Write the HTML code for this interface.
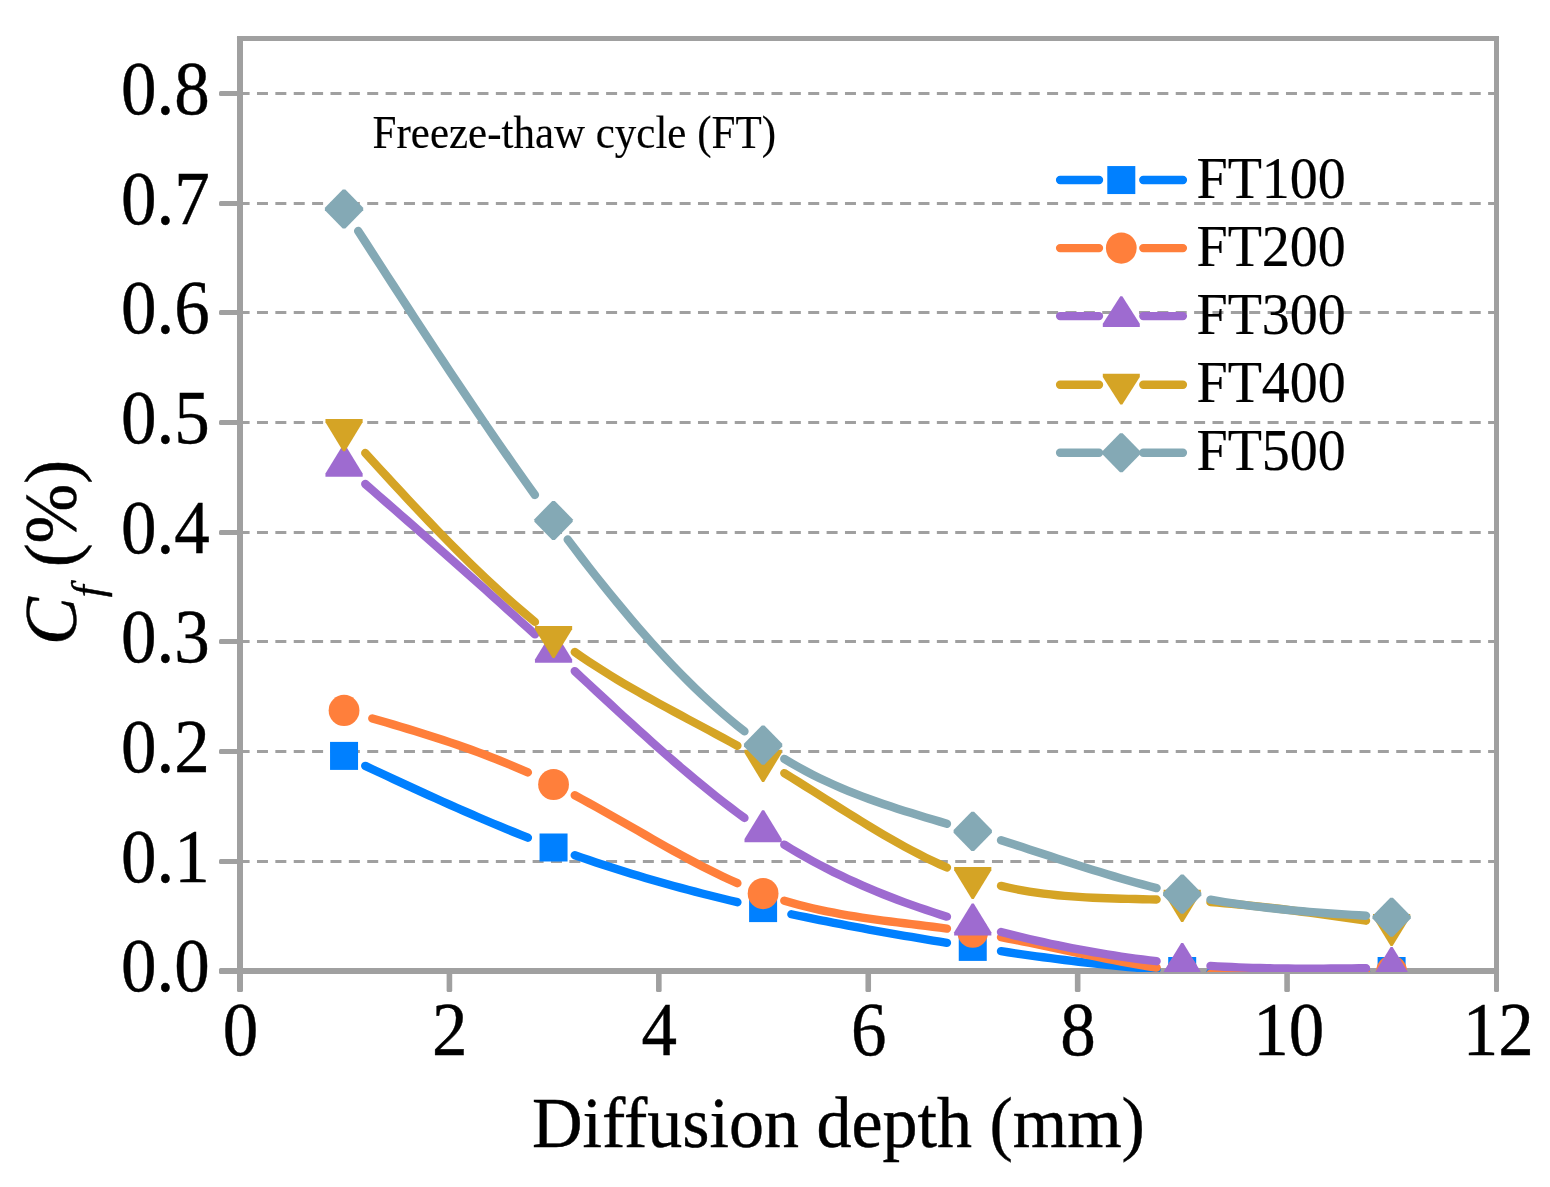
<!DOCTYPE html>
<html lang="en"><head><meta charset="utf-8"><title>Chloride diffusion chart</title>
<style>
html,body{margin:0;padding:0;background:#fff;}
body{width:1550px;height:1187px;overflow:hidden;}
svg{display:block;}
text{font-family:"Liberation Serif","Times New Roman",serif;fill:#000;stroke:#000;stroke-width:0.4px;}
.lg{stroke-width:0.2px;}
.an{stroke-width:0.15px;}
.it{font-style:italic;}
</style></head><body>
<svg width="1550" height="1187" viewBox="0 0 1550 1187">
<rect width="1550" height="1187" fill="#fff"/>
<defs><clipPath id="plot"><rect x="240" y="38" width="1257" height="934"/></clipPath></defs>

<g stroke="#a0a0a0" stroke-width="3" stroke-dasharray="11 7.375" fill="none">
<line x1="238.6" y1="861.5" x2="1496" y2="861.5"/>
<line x1="238.6" y1="751.5" x2="1496" y2="751.5"/>
<line x1="238.6" y1="641.5" x2="1496" y2="641.5"/>
<line x1="238.6" y1="532.5" x2="1496" y2="532.5"/>
<line x1="238.6" y1="422.5" x2="1496" y2="422.5"/>
<line x1="238.6" y1="312.5" x2="1496" y2="312.5"/>
<line x1="238.6" y1="203.5" x2="1496" y2="203.5"/>
<line x1="238.6" y1="93.5" x2="1496" y2="93.5"/>
</g>
<g fill="#a0a0a0">
<rect x="237" y="36" width="6" height="956" rx="1.5"/>
<rect x="219" y="968" width="1280" height="6" rx="1.5"/>
<rect x="237" y="36" width="1262" height="5"/>
<rect x="1494" y="36" width="5" height="956" rx="1.5"/>
<rect x="219" y="859" width="21" height="5" rx="1.5"/>
<rect x="219" y="749" width="21" height="5" rx="1.5"/>
<rect x="219" y="639" width="21" height="5" rx="1.5"/>
<rect x="219" y="530" width="21" height="5" rx="1.5"/>
<rect x="219" y="420" width="21" height="5" rx="1.5"/>
<rect x="219" y="310" width="21" height="5" rx="1.5"/>
<rect x="219" y="201" width="21" height="5" rx="1.5"/>
<rect x="219" y="91" width="21" height="5" rx="1.5"/>
<rect x="446.62" y="971" width="5.6" height="21" rx="1.5"/>
<rect x="656.03" y="971" width="5.6" height="21" rx="1.5"/>
<rect x="865.45" y="971" width="5.6" height="21" rx="1.5"/>
<rect x="1074.87" y="971" width="5.6" height="21" rx="1.5"/>
<rect x="1284.28" y="971" width="5.6" height="21" rx="1.5"/>
</g>
<g clip-path="url(#plot)">
<path d="M365.26 765.87 L372.33 769.18 L379.4 772.49 L386.47 775.79 L393.54 779.08 L400.61 782.36 L407.68 785.63 L414.75 788.88 L421.82 792.11 L428.89 795.33 L435.96 798.53 L443.03 801.71 L450.1 804.87 L457.17 808 L464.24 811.11 L471.31 814.19 L478.38 817.24 L485.45 820.26 L492.52 823.25 L499.59 826.21 L506.66 829.13 L513.73 832.01 L520.8 834.86 L527.87 837.67 M574.76 855.17 L581.83 857.63 L588.9 860.05 L595.97 862.43 L603.04 864.76 L610.11 867.06 L617.18 869.31 L624.25 871.52 L631.32 873.7 L638.39 875.83 L645.46 877.93 L652.53 879.99 L659.6 882.02 L666.67 884.01 L673.74 885.97 L680.81 887.89 L687.88 889.78 L694.95 891.64 L702.02 893.47 L709.09 895.27 L716.16 897.04 L723.23 898.78 L730.3 900.49 L737.37 902.18 M791.38 914.26 L798.45 915.74 L805.52 917.2 L812.59 918.65 L819.66 920.07 L826.73 921.47 L833.8 922.86 L840.87 924.23 L847.94 925.58 L855.01 926.91 L862.08 928.22 L869.15 929.52 L876.22 930.8 L883.29 932.06 L890.36 933.31 L897.43 934.55 L904.5 935.77 L911.57 936.98 L918.64 938.17 L925.71 939.35 L932.78 940.52 L939.85 941.67 L946.92 942.81 M1001.03 951.21 L1008.1 952.26 L1015.17 953.29 L1022.24 954.31 L1029.31 955.31 L1036.38 956.29 L1043.45 957.25 L1050.52 958.2 L1057.59 959.12 L1064.66 960.03 L1071.73 960.91 L1078.8 961.76 L1085.87 962.6 L1092.94 963.4 L1100.01 964.18 L1107.08 964.94 L1114.15 965.66 L1121.22 966.36 L1128.29 967.02 L1135.36 967.66 L1142.43 968.26 L1149.5 968.83 L1156.57 969.36 M1210.48 972.24 L1217.55 972.46 L1224.62 972.65 L1231.69 972.81 L1238.76 972.93 L1245.83 973.04 L1252.9 973.11 L1259.97 973.16 L1267.04 973.18 L1274.11 973.18 L1281.18 973.16 L1288.25 973.12 L1295.32 973.06 L1302.39 972.98 L1309.46 972.88 L1316.53 972.77 L1323.6 972.65 L1330.67 972.51 L1337.74 972.36 L1344.81 972.2 L1351.88 972.04 L1358.95 971.86 L1366.02 971.68" fill="none" stroke="#0080ff" stroke-width="8.4" stroke-linecap="round" stroke-linejoin="round"/>
<rect x="330.05" y="741.9" width="28" height="28" fill="#0080ff"/>
<rect x="539.55" y="833.5" width="28" height="28" fill="#0080ff"/>
<rect x="749.1" y="894.1" width="28" height="28" fill="#0080ff"/>
<rect x="958.75" y="932.9" width="28" height="28" fill="#0080ff"/>
<rect x="1168.2" y="957" width="28" height="28" fill="#0080ff"/>
<rect x="1377.6" y="957" width="28" height="28" fill="#0080ff"/>
<path d="M372.33 718.46 L379.4 720.5 L386.47 722.55 L393.54 724.63 L400.61 726.73 L407.68 728.86 L414.75 731.01 L421.82 733.2 L428.89 735.43 L435.96 737.7 L443.03 740.01 L450.1 742.37 L457.17 744.78 L464.24 747.25 L471.31 749.77 L478.38 752.35 L485.45 755 L492.52 757.71 L499.59 760.5 L506.66 763.36 L513.73 766.3 L520.8 769.31 L527.87 772.42 M574.76 795.32 L581.83 799.1 L588.9 802.95 L595.97 806.86 L603.04 810.81 L610.11 814.8 L617.18 818.82 L624.25 822.86 L631.32 826.91 L638.39 830.96 L645.46 835.01 L652.53 839.05 L659.6 843.06 L666.67 847.04 L673.74 850.99 L680.81 854.88 L687.88 858.71 L694.95 862.48 L702.02 866.17 L709.09 869.77 L716.16 873.29 L723.23 876.7 L730.3 880 L737.37 883.18 M784.31 900.69 L791.38 902.76 L798.45 904.71 L805.52 906.53 L812.59 908.24 L819.66 909.84 L826.73 911.33 L833.8 912.74 L840.87 914.06 L847.94 915.3 L855.01 916.47 L862.08 917.57 L869.15 918.62 L876.22 919.62 L883.29 920.58 L890.36 921.5 L897.43 922.4 L904.5 923.28 L911.57 924.15 L918.64 925.02 L925.71 925.89 L932.78 926.77 L939.85 927.66 L946.92 928.59 M1001.03 937.17 L1008.1 938.51 L1015.17 939.88 L1022.24 941.28 L1029.31 942.71 L1036.38 944.16 L1043.45 945.63 L1050.52 947.11 L1057.59 948.6 L1064.66 950.09 L1071.73 951.58 L1078.8 953.07 L1085.87 954.54 L1092.94 956 L1100.01 957.43 L1107.08 958.84 L1114.15 960.22 L1121.22 961.57 L1128.29 962.87 L1135.36 964.13 L1142.43 965.34 L1149.5 966.5 L1156.57 967.6 M1210.48 973.59 L1217.55 974.05 L1224.62 974.45 L1231.69 974.78 L1238.76 975.05 L1245.83 975.26 L1252.9 975.42 L1259.97 975.52 L1267.04 975.57 L1274.11 975.57 L1281.18 975.52 L1288.25 975.44 L1295.32 975.31 L1302.39 975.14 L1309.46 974.94 L1316.53 974.71 L1323.6 974.45 L1330.67 974.16 L1337.74 973.85 L1344.81 973.52 L1351.88 973.17 L1358.95 972.81 L1366.02 972.43" fill="none" stroke="#ff7f3b" stroke-width="8.4" stroke-linecap="round" stroke-linejoin="round"/>
<ellipse cx="344.05" cy="710.4" rx="15.4" ry="15.55" fill="#ff7f3b"/>
<ellipse cx="553.55" cy="784.45" rx="15.4" ry="15.55" fill="#ff7f3b"/>
<ellipse cx="763.1" cy="893.6" rx="15.4" ry="15.55" fill="#ff7f3b"/>
<ellipse cx="972.75" cy="932.3" rx="15.4" ry="15.55" fill="#ff7f3b"/>
<ellipse cx="1182.2" cy="971" rx="15.4" ry="15.55" fill="#ff7f3b"/>
<ellipse cx="1391.6" cy="971" rx="15.4" ry="15.55" fill="#ff7f3b"/>
<path d="M365.26 483.97 L372.33 490.13 L379.4 496.3 L386.47 502.47 L393.54 508.64 L400.61 514.82 L407.68 521.01 L414.75 527.2 L421.82 533.4 L428.89 539.61 L435.96 545.83 L443.03 552.07 L450.1 558.31 L457.17 564.56 L464.24 570.83 L471.31 577.11 L478.38 583.41 L485.45 589.73 L492.52 596.05 L499.59 602.4 L506.66 608.77 L513.73 615.15 L520.8 621.55 L527.87 627.98 L534.94 634.42 M574.76 671.14 L581.83 677.71 L588.9 684.28 L595.97 690.85 L603.04 697.4 L610.11 703.95 L617.18 710.47 L624.25 716.97 L631.32 723.43 L638.39 729.86 L645.46 736.24 L652.53 742.58 L659.6 748.86 L666.67 755.08 L673.74 761.23 L680.81 767.31 L687.88 773.32 L694.95 779.25 L702.02 785.08 L709.09 790.82 L716.16 796.47 L723.23 802 L730.3 807.43 L737.37 812.74 L744.44 817.93 M784.31 844.68 L791.38 848.98 L798.45 853.14 L805.52 857.18 L812.59 861.09 L819.66 864.89 L826.73 868.57 L833.8 872.13 L840.87 875.59 L847.94 878.94 L855.01 882.19 L862.08 885.35 L869.15 888.4 L876.22 891.36 L883.29 894.24 L890.36 897.02 L897.43 899.73 L904.5 902.36 L911.57 904.91 L918.64 907.38 L925.71 909.79 L932.78 912.13 L939.85 914.41 L946.92 916.64 M1001.03 931.99 L1008.1 933.8 L1015.17 935.57 L1022.24 937.29 L1029.31 938.97 L1036.38 940.6 L1043.45 942.19 L1050.52 943.73 L1057.59 945.22 L1064.66 946.67 L1071.73 948.07 L1078.8 949.43 L1085.87 950.74 L1092.94 952 L1100.01 953.21 L1107.08 954.38 L1114.15 955.5 L1121.22 956.57 L1128.29 957.59 L1135.36 958.57 L1142.43 959.5 L1149.5 960.37 L1156.57 961.2 M1210.48 965.92 L1217.55 966.34 L1224.62 966.72 L1231.69 967.06 L1238.76 967.36 L1245.83 967.63 L1252.9 967.85 L1259.97 968.05 L1267.04 968.22 L1274.11 968.35 L1281.18 968.46 L1288.25 968.54 L1295.32 968.6 L1302.39 968.63 L1309.46 968.65 L1316.53 968.64 L1323.6 968.61 L1330.67 968.57 L1337.74 968.52 L1344.81 968.45 L1351.88 968.37 L1358.95 968.28 L1366.02 968.19" fill="none" stroke="#9e6bd0" stroke-width="8.4" stroke-linecap="round" stroke-linejoin="round"/>
<polygon points="325.45,476.8 362.65,476.8 362.65,473.5 345.05,444.8 343.05,444.8 325.45,473.5" fill="#9e6bd0"/>
<polygon points="534.95,662.8 572.15,662.8 572.15,659.5 554.55,630.8 552.55,630.8 534.95,659.5" fill="#9e6bd0"/>
<polygon points="744.5,842.3 781.7,842.3 781.7,839 764.1,810.3 762.1,810.3 744.5,839" fill="#9e6bd0"/>
<polygon points="954.15,935.6 991.35,935.6 991.35,932.3 973.75,903.6 971.75,903.6 954.15,932.3" fill="#9e6bd0"/>
<polygon points="1163.6,975.1 1200.8,975.1 1200.8,971.8 1183.2,943.1 1181.2,943.1 1163.6,971.8" fill="#9e6bd0"/>
<polygon points="1373,979.1 1410.2,979.1 1410.2,975.8 1392.6,947.1 1390.6,947.1 1373,975.8" fill="#9e6bd0"/>
<path d="M365.26 453.01 L372.33 460.76 L379.4 468.48 L386.47 476.18 L393.54 483.84 L400.61 491.47 L407.68 499.05 L414.75 506.58 L421.82 514.06 L428.89 521.48 L435.96 528.83 L443.03 536.11 L450.1 543.32 L457.17 550.45 L464.24 557.48 L471.31 564.43 L478.38 571.28 L485.45 578.02 L492.52 584.65 L499.59 591.17 L506.66 597.58 L513.73 603.85 L520.8 610 L527.87 616 L534.94 621.87 M574.76 652.08 L581.83 656.95 L588.9 661.7 L595.97 666.32 L603.04 670.83 L610.11 675.24 L617.18 679.55 L624.25 683.77 L631.32 687.91 L638.39 691.97 L645.46 695.98 L652.53 699.92 L659.6 703.82 L666.67 707.67 L673.74 711.5 L680.81 715.3 L687.88 719.08 L694.95 722.85 L702.02 726.63 L709.09 730.41 L716.16 734.2 L723.23 738.02 L730.3 741.88 L737.37 745.77 M784.31 773.13 L791.38 777.49 L798.45 781.89 L805.52 786.32 L812.59 790.77 L819.66 795.23 L826.73 799.7 L833.8 804.17 L840.87 808.62 L847.94 813.05 L855.01 817.44 L862.08 821.8 L869.15 826.1 L876.22 830.34 L883.29 834.52 L890.36 838.62 L897.43 842.63 L904.5 846.55 L911.57 850.36 L918.64 854.05 L925.71 857.63 L932.78 861.07 L939.85 864.37 L946.92 867.52 M1001.03 885.85 L1008.1 887.5 L1015.17 888.99 L1022.24 890.33 L1029.31 891.55 L1036.38 892.63 L1043.45 893.6 L1050.52 894.45 L1057.59 895.2 L1064.66 895.86 L1071.73 896.43 L1078.8 896.93 L1085.87 897.35 L1092.94 897.72 L1100.01 898.03 L1107.08 898.29 L1114.15 898.52 L1121.22 898.72 L1128.29 898.9 L1135.36 899.06 L1142.43 899.22 L1149.5 899.39 L1156.57 899.57 M1210.48 902.1 L1217.55 902.63 L1224.62 903.19 L1231.69 903.8 L1238.76 904.45 L1245.83 905.13 L1252.9 905.85 L1259.97 906.6 L1267.04 907.38 L1274.11 908.2 L1281.18 909.04 L1288.25 909.91 L1295.32 910.8 L1302.39 911.71 L1309.46 912.65 L1316.53 913.61 L1323.6 914.58 L1330.67 915.58 L1337.74 916.58 L1344.81 917.6 L1351.88 918.63 L1358.95 919.67 L1366.02 920.72" fill="none" stroke="#d5a425" stroke-width="8.4" stroke-linecap="round" stroke-linejoin="round"/>
<polygon points="325.45,419.05 362.65,419.05 362.65,422.35 345.05,451.2 343.05,451.2 325.45,422.35" fill="#d5a425"/>
<polygon points="534.95,625.95 572.15,625.95 572.15,629.25 554.55,658.1 552.55,658.1 534.95,629.25" fill="#d5a425"/>
<polygon points="744.5,749.75 781.7,749.75 781.7,753.05 764.1,781.9 762.1,781.9 744.5,753.05" fill="#d5a425"/>
<polygon points="954.15,866.95 991.35,866.95 991.35,870.25 973.75,899.1 971.75,899.1 954.15,870.25" fill="#d5a425"/>
<polygon points="1163.6,889.8 1200.8,889.8 1200.8,893.1 1183.2,921.95 1181.2,921.95 1163.6,893.1" fill="#d5a425"/>
<polygon points="1373,913.9 1410.2,913.9 1410.2,917.2 1392.6,946.05 1390.6,946.05 1373,917.2" fill="#d5a425"/>
<path d="M358.19 230.94 L365.26 241.9 L372.33 252.86 L379.4 263.8 L386.47 274.72 L393.54 285.63 L400.61 296.51 L407.68 307.37 L414.75 318.2 L421.82 329 L428.89 339.76 L435.96 350.49 L443.03 361.17 L450.1 371.82 L457.17 382.41 L464.24 392.95 L471.31 403.45 L478.38 413.88 L485.45 424.25 L492.52 434.57 L499.59 444.81 L506.66 454.99 L513.73 465.09 L520.8 475.12 L527.87 485.07 L534.94 494.94 M567.69 539.49 L574.76 548.84 L581.83 558.08 L588.9 567.21 L595.97 576.22 L603.04 585.11 L610.11 593.89 L617.18 602.53 L624.25 611.04 L631.32 619.42 L638.39 627.65 L645.46 635.74 L652.53 643.68 L659.6 651.47 L666.67 659.09 L673.74 666.56 L680.81 673.86 L687.88 680.99 L694.95 687.94 L702.02 694.71 L709.09 701.3 L716.16 707.7 L723.23 713.91 L730.3 719.92 L737.37 725.73 L744.44 731.33 M784.31 758.93 L791.38 763.14 L798.45 767.16 L805.52 771 L812.59 774.68 L819.66 778.19 L826.73 781.55 L833.8 784.76 L840.87 787.84 L847.94 790.8 L855.01 793.63 L862.08 796.36 L869.15 798.99 L876.22 801.52 L883.29 803.97 L890.36 806.34 L897.43 808.65 L904.5 810.9 L911.57 813.11 L918.64 815.27 L925.71 817.4 L932.78 819.51 L939.85 821.6 L946.92 823.69 M1001.03 840.25 L1008.1 842.52 L1015.17 844.81 L1022.24 847.11 L1029.31 849.41 L1036.38 851.73 L1043.45 854.04 L1050.52 856.35 L1057.59 858.65 L1064.66 860.94 L1071.73 863.22 L1078.8 865.47 L1085.87 867.71 L1092.94 869.92 L1100.01 872.11 L1107.08 874.26 L1114.15 876.37 L1121.22 878.44 L1128.29 880.47 L1135.36 882.45 L1142.43 884.38 L1149.5 886.26 L1156.57 888.07 M1210.48 899.65 L1217.55 900.86 L1224.62 902.02 L1231.69 903.11 L1238.76 904.14 L1245.83 905.12 L1252.9 906.04 L1259.97 906.92 L1267.04 907.74 L1274.11 908.52 L1281.18 909.26 L1288.25 909.96 L1295.32 910.62 L1302.39 911.25 L1309.46 911.84 L1316.53 912.4 L1323.6 912.94 L1330.67 913.45 L1337.74 913.94 L1344.81 914.4 L1351.88 914.86 L1358.95 915.29 L1366.02 915.72" fill="none" stroke="#84a9b5" stroke-width="8.4" stroke-linecap="round" stroke-linejoin="round"/>
<polygon points="342.75,189.45 345.35,189.45 363.2,207.7 363.2,210.3 345.35,228.55 342.75,228.55 324.9,210.3 324.9,207.7" fill="#84a9b5"/>
<polygon points="552.25,500.95 554.85,500.95 572.7,519.2 572.7,521.8 554.85,540.05 552.25,540.05 534.4,521.8 534.4,519.2" fill="#84a9b5"/>
<polygon points="761.8,725.55 764.4,725.55 782.25,743.8 782.25,746.4 764.4,764.65 761.8,764.65 743.95,746.4 743.95,743.8" fill="#84a9b5"/>
<polygon points="971.45,811.85 974.05,811.85 991.9,830.1 991.9,832.7 974.05,850.95 971.45,850.95 953.6,832.7 953.6,830.1" fill="#84a9b5"/>
<polygon points="1180.9,874.55 1183.5,874.55 1201.35,892.8 1201.35,895.4 1183.5,913.65 1180.9,913.65 1163.05,895.4 1163.05,892.8" fill="#84a9b5"/>
<polygon points="1390.3,897.65 1392.9,897.65 1410.75,915.9 1410.75,918.5 1392.9,936.75 1390.3,936.75 1372.45,918.5 1372.45,915.9" fill="#84a9b5"/>
</g>
<path d="M1060.1 180.06 H1099 M1143.3 180.06 H1182.9" stroke="#0080ff" stroke-width="8.4" stroke-linecap="round" fill="none"/>
<rect x="1107.3" y="166.06" width="28" height="28" fill="#0080ff"/>
<text transform="translate(1196.5 197.81) scale(1 1.04)" font-size="56" class="lg">FT100</text>
<path d="M1060.1 248.1 H1099 M1143.3 248.1 H1182.9" stroke="#ff7f3b" stroke-width="8.4" stroke-linecap="round" fill="none"/>
<ellipse cx="1121.3" cy="248.1" rx="15.4" ry="15.55" fill="#ff7f3b"/>
<text transform="translate(1196.5 265.85) scale(1 1.04)" font-size="56" class="lg">FT200</text>
<path d="M1060.1 316.1 H1099 M1143.3 316.1 H1182.9" stroke="#9e6bd0" stroke-width="8.4" stroke-linecap="round" fill="none"/>
<polygon points="1102.8,327.1 1139.8,327.1 1139.8,323.8 1122.3,296.2 1120.3,296.2 1102.8,323.8" fill="#9e6bd0"/>
<text transform="translate(1196.5 333.85) scale(1 1.04)" font-size="56" class="lg">FT300</text>
<path d="M1060.1 384.7 H1099 M1143.3 384.7 H1182.9" stroke="#d5a425" stroke-width="8.4" stroke-linecap="round" fill="none"/>
<polygon points="1102.8,373.7 1139.8,373.7 1139.8,377 1122.3,404.6 1120.3,404.6 1102.8,377" fill="#d5a425"/>
<text transform="translate(1196.5 402.45) scale(1 1.04)" font-size="56" class="lg">FT400</text>
<path d="M1060.1 452.7 H1099 M1143.3 452.7 H1182.9" stroke="#84a9b5" stroke-width="8.4" stroke-linecap="round" fill="none"/>
<polygon points="1120,433.15 1122.6,433.15 1140.45,451.4 1140.45,454 1122.6,472.25 1120,472.25 1102.15,454 1102.15,451.4" fill="#84a9b5"/>
<text transform="translate(1196.5 470.45) scale(1 1.04)" font-size="56" class="lg">FT500</text>
<text transform="translate(209.85 991.4) scale(1 1.066)" font-size="71" text-anchor="end">0.0</text>
<text transform="translate(209.85 881.9) scale(1 1.066)" font-size="71" text-anchor="end">0.1</text>
<text transform="translate(209.85 771.9) scale(1 1.066)" font-size="71" text-anchor="end">0.2</text>
<text transform="translate(209.85 661.9) scale(1 1.066)" font-size="71" text-anchor="end">0.3</text>
<text transform="translate(209.85 552.9) scale(1 1.066)" font-size="71" text-anchor="end">0.4</text>
<text transform="translate(209.85 442.9) scale(1 1.066)" font-size="71" text-anchor="end">0.5</text>
<text transform="translate(209.85 332.9) scale(1 1.066)" font-size="71" text-anchor="end">0.6</text>
<text transform="translate(209.85 223.9) scale(1 1.066)" font-size="71" text-anchor="end">0.7</text>
<text transform="translate(209.85 113.9) scale(1 1.066)" font-size="71" text-anchor="end">0.8</text>
<text transform="translate(240.4 1054.5) scale(1 1.066)" font-size="71" text-anchor="middle">0</text>
<text transform="translate(449.82 1054.5) scale(1 1.066)" font-size="71" text-anchor="middle">2</text>
<text transform="translate(659.23 1054.5) scale(1 1.066)" font-size="71" text-anchor="middle">4</text>
<text transform="translate(868.65 1054.5) scale(1 1.066)" font-size="71" text-anchor="middle">6</text>
<text transform="translate(1078.07 1054.5) scale(1 1.066)" font-size="71" text-anchor="middle">8</text>
<text transform="translate(1288.78 1054.5) scale(1 1.066)" font-size="71" text-anchor="middle">10</text>
<text transform="translate(1498.2 1054.5) scale(1 1.066)" font-size="71" text-anchor="middle">12</text>
<text transform="translate(531.9 1146.5) scale(1 1.036)" font-size="70">Diffusion depth (mm)</text>
<text transform="translate(76 644.9) rotate(-90) scale(1 1.02)" font-size="71.6"><tspan class="it">C</tspan><tspan class="it" font-size="43" dy="26">f</tspan><tspan dy="-26"> (%)</tspan></text>
<text transform="translate(372.6 147.8) scale(1 1.06)" font-size="43" class="an">Freeze-thaw cycle (FT)</text>
</svg></body></html>
